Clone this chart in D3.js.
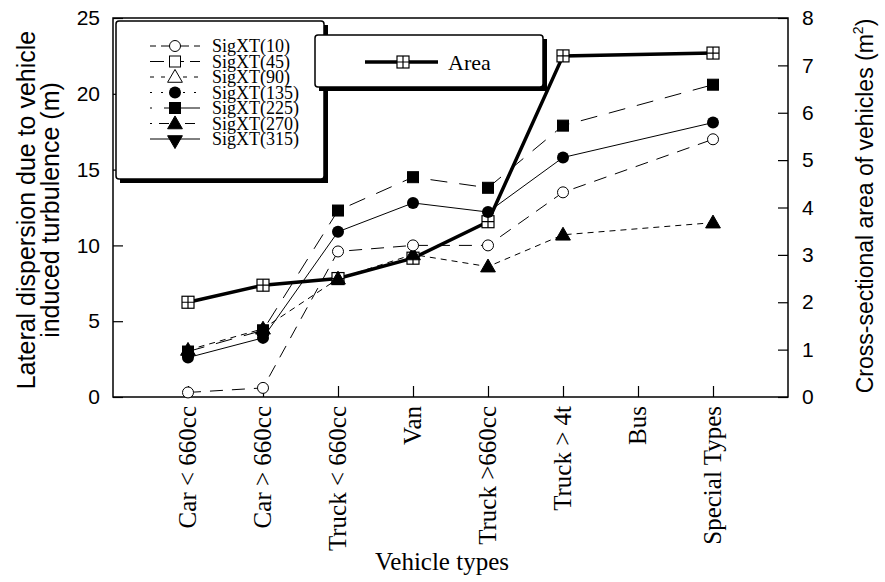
<!DOCTYPE html>
<html>
<head>
<meta charset="utf-8">
<script src="https://cdn.jsdelivr.net/npm/d3@7"></script>
<style>
  body { margin: 0; background: #fff; }
  text { font-family: "Liberation Serif", "Times New Roman", serif; fill: #000; }
  .sans { font-family: "Liberation Sans", Arial, sans-serif; }
</style>
</head>
<body>
<script>
const categories = ["Car < 660cc", "Car > 660cc", "Truck < 660cc", "Van", "Truck >660cc", "Truck > 4t", "Bus", "Special Types"];

// left axis series (m), null = no value
const sig10  = [0.3, 0.6, 9.6, 10.0, 10.0, 13.5, null, 17.0];
const sig135 = [2.6, 3.9, 10.9, 12.8, 12.2, 15.8, null, 18.1];
const sig225 = [3.0, 4.4, 12.3, 14.5, 13.8, 17.9, null, 20.6];
const sig270 = [3.1, 4.5, 7.8, 9.4, 8.6, 10.7, null, 11.5];
// right axis (m^2)
const area = [2.0, 2.36, 2.5, 2.93, 3.7, 7.2, null, 7.26];

const legendNames = ["SigXT(10)", "SigXT(45)", "SigXT(90)", "SigXT(135)", "SigXT(225)", "SigXT(270)", "SigXT(315)"];
const leftTicks = [0, 5, 10, 15, 20, 25];
const rightTicks = [0, 1, 2, 3, 4, 5, 6, 7, 8];

const W = 885, H = 582;
const L = 113, R = 788, T = 18, B = 397;

const svg = d3.select('body').append('svg')
  .attr('width', W).attr('height', H)
  .style('background', '#fff');

const x = d3.scaleLinear().domain([0, categories.length + 1]).range([L, R]);
const yL = d3.scaleLinear().domain([0, 25]).range([B, T]);
const yR = d3.scaleLinear().domain([0, 8]).range([B, T]);

// marker drawing
function marker(g, type, cx, cy) {
  if (type == 'circleOpen') {
    g.append('circle').attr('cx', cx).attr('cy', cy).attr('r', 5.5)
      .attr('fill', '#fff').attr('stroke', '#000').attr('stroke-width', 1);
  } else if (type == 'circle') {
    g.append('circle').attr('cx', cx).attr('cy', cy).attr('r', 6).attr('fill', '#000');
  } else if (type == 'square' || type == 'squareOpen') {
    g.append('rect').attr('x', cx - 5.5).attr('y', cy - 5.5).attr('width', 11).attr('height', 11)
      .attr('fill', type == 'square' ? '#000' : '#fff').attr('stroke', '#000');
  } else if (type == 'triangle' || type == 'triangleOpen' || type == 'triangleDown') {
    g.append('path').attr('d', d3.symbol(d3.symbolTriangle, 95)())
      .attr('transform', `translate(${cx},${cy + 1})` + (type == 'triangleDown' ? ' rotate(180)' : ''))
      .attr('fill', type == 'triangleOpen' ? '#fff' : '#000').attr('stroke', '#000');
  } else if (type == 'crossSquare') {
    g.append('rect').attr('x', cx - 6).attr('y', cy - 6).attr('width', 12).attr('height', 12)
      .attr('fill', '#fff').attr('stroke', '#000').attr('stroke-width', 1.2);
    g.append('path').attr('d', `M${cx - 6},${cy}H${cx + 6}M${cx},${cy - 6}V${cy + 6}`)
      .attr('stroke', '#000').attr('stroke-width', 1.2);
  }
}

// frame
svg.append('rect').attr('x', L).attr('y', T).attr('width', R - L).attr('height', B - T)
  .attr('fill', 'none').attr('stroke', '#000').attr('stroke-width', 1.5);

// left axis
const gl = svg.append('g').attr('transform', `translate(${L},0)`);
gl.call(d3.axisLeft(yL).tickValues(d3.range(0, 26, 1)).tickSize(-5).tickFormat(''));
gl.call(d3.axisLeft(yL).tickValues(leftTicks).tickSizeInner(-10).tickSizeOuter(0).tickPadding(13));
gl.selectAll('.domain').remove();

// right axis
const gr = svg.append('g').attr('transform', `translate(${R},0)`);
gr.call(d3.axisRight(yR).tickValues(d3.range(0, 40.5, 1).map(d => d / 5)).tickSize(-5).tickFormat(''));
gr.call(d3.axisRight(yR).tickValues(rightTicks).tickSizeInner(-10).tickSizeOuter(0).tickPadding(14));
gr.selectAll('.domain').remove();

// bottom axis ticks
const gb = svg.append('g').attr('transform', `translate(0,${B})`);
gb.call(d3.axisBottom(x).tickValues(d3.range(0, categories.length + 1).map(d => d + 0.5)).tickSize(-5).tickFormat(''));
gb.call(d3.axisBottom(x).tickValues(d3.range(1, categories.length + 1)).tickSize(-11).tickFormat(''));
gb.selectAll('.domain').remove();

svg.selectAll('.tick line').attr('stroke', '#000').attr('stroke-width', 1.2);
svg.selectAll('.tick text').attr('class', 'sans').style('font-size', '21px').attr('fill', '#000');

// category labels
svg.append('g').selectAll('text').data(categories).join('text')
  .attr('transform', (d, i) => `translate(${x(i + 1) + 8},406) rotate(-90)`)
  .attr('text-anchor', 'end')
  .style('font-size', '25px')
  .text(d => d);

// axis titles
svg.append('text').attr('x', 442).attr('y', 570).attr('text-anchor', 'middle')
  .style('font-size', '25px').text('Vehicle types');

const lt = svg.append('text').attr('class', 'sans').attr('transform', 'translate(35,210) rotate(-90)')
  .attr('text-anchor', 'middle').style('font-size', '25px');
lt.append('tspan').attr('x', 0).attr('dy', 0).text('Lateral dispersion due to vehicle');
lt.append('tspan').attr('x', 0).attr('dy', 24).text('induced turbulence (m)');

const rt = svg.append('text').attr('class', 'sans').attr('transform', 'translate(873,206) rotate(-90)')
  .attr('text-anchor', 'middle').style('font-size', '23px');
rt.append('tspan').text('Cross-sectional area of vehicles (m');
rt.append('tspan').attr('dy', -10).style('font-size', '14px').text('2');
rt.append('tspan').attr('dy', 10).text(')');

// series lines
const series = [
  {vals: sig270, y: yL, dash: '6,5', w: 1, m: 'triangle'},
  {vals: sig10, y: yL, dash: '13,9', w: 1, m: 'circleOpen'},
  {vals: sig135, y: yL, dash: null, w: 1, m: 'circle'},
  {vals: sig225, y: yL, dash: '17,12', w: 1, m: 'square'},
];
const areaSeries = {vals: area, y: yR, dash: null, w: 3.5, m: 'crossSquare'};

function drawLine(s) {
  const pts = s.vals.map((v, i) => [i + 1, v]).filter(p => p[1] != null);
  svg.append('path').datum(pts)
    .attr('fill', 'none').attr('stroke', '#000')
    .attr('stroke-width', s.w)
    .attr('stroke-dasharray', s.dash)
    .attr('d', d3.line().x(p => x(p[0])).y(p => s.y(p[1])));
  return pts;
}
function drawMarks(s, pts) {
  const g = svg.append('g');
  pts.forEach(p => marker(g, s.m, x(p[0]), s.y(p[1])));
}

const ap = drawLine(areaSeries);
const lp = series.map(s => drawLine(s));
drawMarks(areaSeries, ap);
series.forEach((s, i) => drawMarks(s, lp[i]));

// legend box 1
const legendStyle = [
  {dash: '6,5,22,0', m: 'circleOpen'},
  {dash: '14,6', m: 'squareOpen'},
  {dash: '4,7', m: 'triangleOpen'},
  {dash: '2,9', m: 'circle'},
  {dash: '2,12,40,0', m: 'square'},
  {dash: '2,7,10,7', m: 'triangle'},
  {dash: null, m: 'triangleDown'}
];
const lg = svg.append('g');
lg.append('rect').attr('x', 120).attr('y', 25).attr('width', 208).attr('height', 158).attr('fill', '#000');
lg.append('rect').attr('x', 116).attr('y', 21).attr('width', 208).attr('height', 158).attr('rx', 3)
  .attr('fill', '#fff').attr('stroke', '#000').attr('stroke-width', 1.5);
legendNames.forEach((n, i) => {
  const yy = 46 + i * 15.5;
  lg.append('line').attr('x1', 150).attr('x2', 200).attr('y1', yy).attr('y2', yy)
    .attr('stroke', '#000').attr('stroke-width', 1)
    .attr('stroke-dasharray', legendStyle[i].dash);
  marker(lg, legendStyle[i].m, 175, yy);
  lg.append('text').attr('x', 212).attr('y', yy + 6).style('font-size', '18px').text(n);
});

// legend box 2
const lg2 = svg.append('g');
lg2.append('rect').attr('x', 319).attr('y', 39).attr('width', 228).attr('height', 52).attr('fill', '#000');
lg2.append('rect').attr('x', 315).attr('y', 35).attr('width', 228).attr('height', 52).attr('rx', 3)
  .attr('fill', '#fff').attr('stroke', '#000').attr('stroke-width', 1.5);
lg2.append('line').attr('x1', 365).attr('x2', 438).attr('y1', 62).attr('y2', 62)
  .attr('stroke', '#000').attr('stroke-width', 3.5);
marker(lg2, 'crossSquare', 403, 62);
lg2.append('text').attr('x', 448).attr('y', 70).style('font-size', '22px').text('Area');
</script>
</body>
</html>
